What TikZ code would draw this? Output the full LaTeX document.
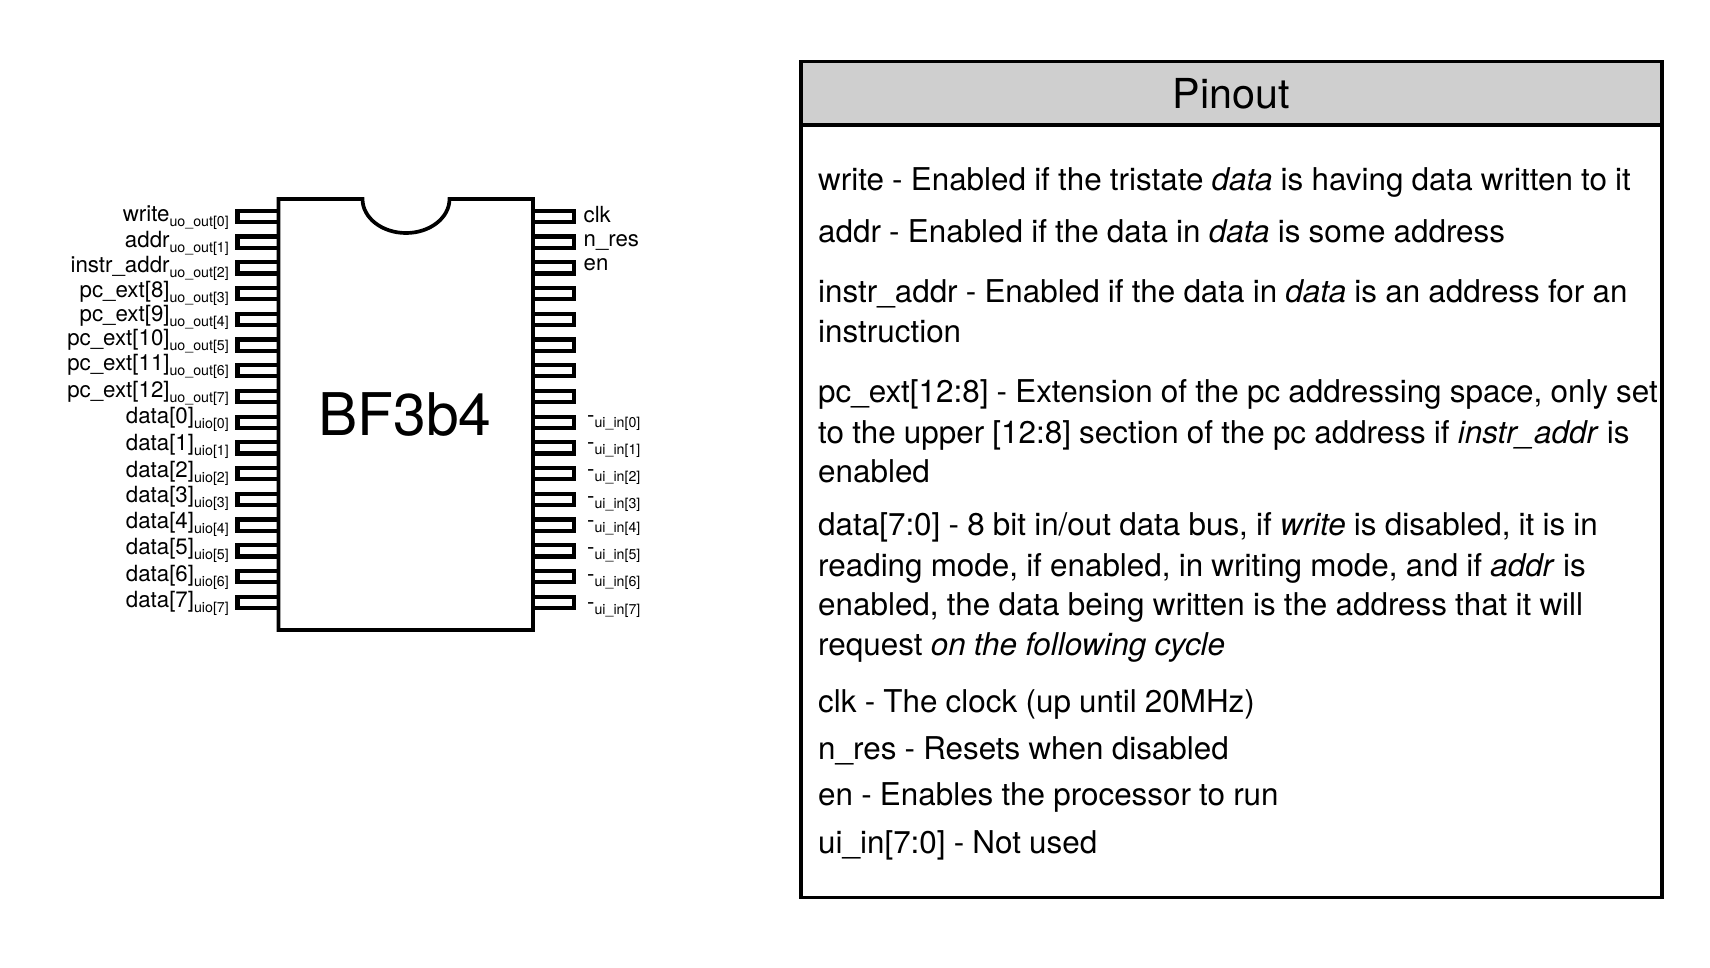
\documentclass[tikz,border=0pt]{standalone}
\usepackage{fontspec}
\setmainfont[WordSpace=0.94]{TeX Gyre Heros}
\newcommand{\fs}[1]{\fontsize{#1}{#1}\selectfont}
\newcommand{\sbs}[1]{\raisebox{-5pt}{\fs{14.2}#1}}
\newcommand{\sbr}[1]{\raisebox{-5pt}{\fs{14.2}#1}}
\tikzset{
  heavy/.style={draw=black,line width=3.7pt,line join=miter},
  pinbox/.style={draw=black,line width=4.2pt,line join=miter,fill=white},
  body/.style={anchor=base west,inner sep=0pt,font=\fs{31.4}},
  pinl/.style={anchor=base east,inner sep=0pt,font=\fs{22.3}},
  pinr/.style={anchor=base west,inner sep=0pt,font=\fs{22.2}},
}
\begin{document}
\begin{tikzpicture}[x=1pt,y=-1pt]
\path[use as bounding box,fill=white] (0,0) rectangle (1710,967);
% pins
\foreach \i in {0,...,15}{
  \pgfmathsetmacro{\yy}{210.8+25.73*\i}
  \draw[pinbox] (278,\yy) -- (237.5,\yy) -- (237.5,\yy+11.2) -- (278,\yy+11.2);
  \draw[pinbox] (533,\yy) -- (574,\yy) -- (574,\yy+11.2) -- (533,\yy+11.2);
}
% chip
\draw[heavy] (278.5,199) -- (362.5,199) arc[start angle=180,end angle=360,x radius=43.5,y radius=-34] -- (533,199) -- (533,630) -- (278.5,630) -- cycle;
\node[anchor=base,inner sep=0pt,font=\fs{58.8}] (chip) at (405,435) {BF3b4};
% left labels
\foreach \n/\t/\s/\b in {
 l0/write/uo\_out[0]/221.7, l1/addr/uo\_out[1]/247, l2/instr\_addr/uo\_out[2]/272.7,
 l3/pc\_ext[8]/uo\_out[3]/297.5, l4/pc\_ext[9]/uo\_out[4]/321.2, l5/pc\_ext[10]/uo\_out[5]/345,
 l6/pc\_ext[11]/uo\_out[6]/370.5, l7/pc\_ext[12]/uo\_out[7]/397.5,
 l8/data[0]/uio[0]/423.5, l9/data[1]/uio[1]/450.5, l10/data[2]/uio[2]/477, l11/data[3]/uio[3]/502.5,
 l12/data[4]/uio[4]/528.5, l13/data[5]/uio[5]/554.5, l14/data[6]/uio[6]/581.5, l15/data[7]/uio[7]/607.5}{
  \node[pinl] (\n) at (229,\b) {\t\sbs{\s}};
}
% right labels
\node[pinr] (clk) at (583.5,222.7) {clk};
\node[pinr] (nres) at (583.5,246) {n\_res};
\node[pinr] (en) at (583.5,270) {en};
\foreach \n/\s/\b in {
 r0/ui\_in[0]/422.3, r1/ui\_in[1]/449, r2/ui\_in[2]/476.3, r3/ui\_in[3]/503.3,
 r4/ui\_in[4]/527.3, r5/ui\_in[5]/554.7, r6/ui\_in[6]/581.7, r7/ui\_in[7]/609}{
  \node[pinr] (\n) at (587,\b) {-\sbr{\s}};
}
% panel
\fill[black!19] (801,61.5) rectangle (1662,125);
\draw[heavy] (801,61.5) rectangle (1662,897.5);
\draw[heavy] (801,125) -- (1662,125);
\node[anchor=base,inner sep=0pt,font=\fs{41.3}] (title) at (1231,108) {Pinout};
\foreach \n/\b/\t in {
 a/190/{write - Enabled if the tristate \emph{data} is having data written to it},
 b/242.7/{addr - Enabled if the data in \emph{data} is some address},
 c/302.5/{instr\_addr - Enabled if the data in \emph{data} is an address for an},
 d/342.5/{instruction},
 e/402.5/{pc\_ext[12:8] - Extension of the pc addressing space, only set},
 f/443/{to the upper [12:8] section of the pc address if \emph{instr\_addr} is},
 g/482/{enabled},
 h/535.5/{data[7:0] - 8 bit in/out data bus, if \emph{write} is disabled, it is in},
 i/576/{reading mode, if enabled, in writing mode, and if \emph{addr} is},
 j/615.5/{enabled, the data being written is the address that it will},
 k/655.5/{request \emph{on the following cycle}},
 m/712/{clk - The clock (up until 20MHz)},
 o/759/{n\_res - Resets when disabled},
 p/805.5/{en - Enables the processor to run},
 q/853/{ui\_in[7:0] - Not used}}{
  \node[body] (t\n) at (818,\b) {\t};
}
\end{tikzpicture}
\end{document}
